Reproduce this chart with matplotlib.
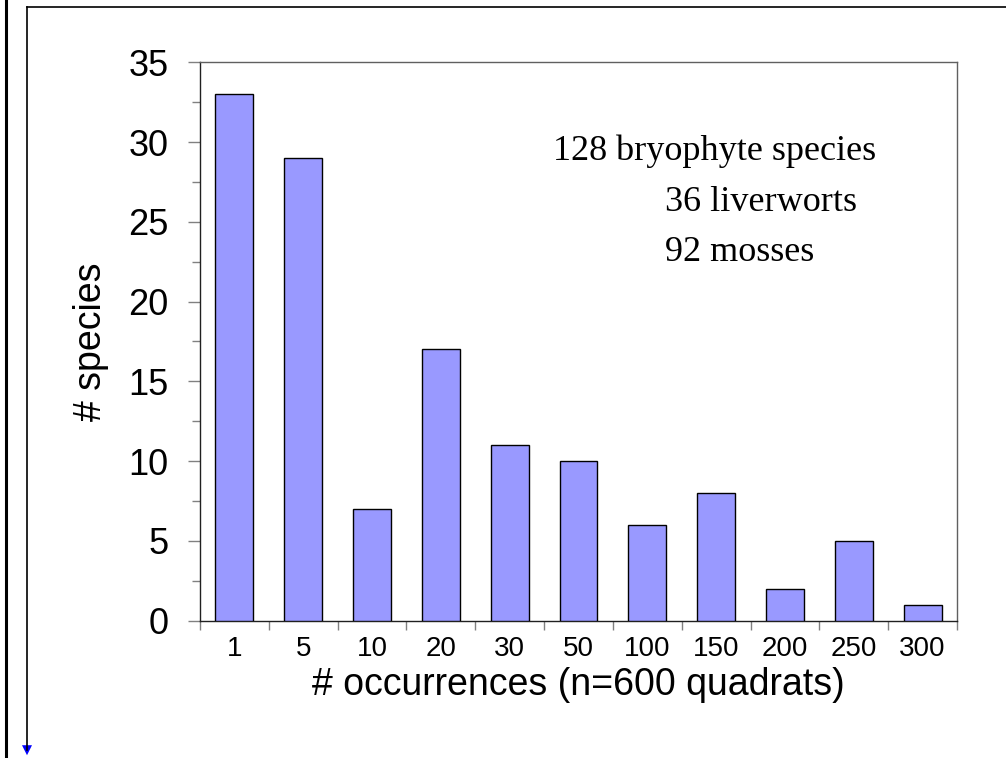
import numpy as np
import matplotlib
matplotlib.use("Agg")
import matplotlib.pyplot as plt
from matplotlib.lines import Line2D
from matplotlib.patches import FancyArrowPatch

plt.rcParams["font.family"] = ["Liberation Sans", "DejaVu Sans"]

# occurrence classes and number of species in each
classes = ["1", "5", "10", "20", "30", "50", "100", "150", "200", "250", "300"]
species = [33, 29, 7, 17, 11, 10, 6, 8, 2, 5, 1]
notes = ["128 bryophyte species", "36 liverworts", "92 mosses"]

W, H = 1006, 758
fig = plt.figure(figsize=(W / 100, H / 100), dpi=100)
ax = fig.add_axes([200 / W, 1 - 620.5 / H, 757 / W, 558 / H])

x = np.arange(len(classes))
ax.bar(x, species, width=0.55, color="#9999ff", edgecolor="black", linewidth=1.0, zorder=3)

ax.set_xlim(-0.5, len(classes) - 0.5)
ax.set_ylim(0, 35)

# y axis
ax.set_yticks(np.arange(0, 36, 5))
ax.set_yticks(np.arange(2.5, 35, 5), minor=True)
ax.tick_params(axis="y", which="major", length=8.6, width=1, color="#808080",
               labelsize=26, pad=14)
ax.tick_params(axis="y", which="minor", length=5.8, width=1, color="#808080")

# x axis: labels centred, ticks on class boundaries
ax.set_xticks(x)
ax.set_xticklabels(classes)
ax.set_xticks(np.arange(-0.5, len(classes), 1), minor=True)
ax.tick_params(axis="x", which="major", length=0, labelsize=20, pad=11)
ax.tick_params(axis="x", which="minor", length=6.5, width=1, color="#808080")

for side in ["left", "bottom"]:
    ax.spines[side].set_color("#202020")
for side in ["top", "right"]:
    ax.spines[side].set_color("#606060")
for s in ax.spines.values():
    s.set_linewidth(1.0)

ax.set_xlabel("# occurrences (n=600 quadrats)", fontsize=27, labelpad=4)
ax.set_ylabel("# species", fontsize=27, labelpad=14)

# annotation text
serif = ["Liberation Serif", "DejaVu Serif"]
fig.text(553 / W, 1 - 160 / H, notes[0], family=serif, fontsize=26, va="baseline")
fig.text(665 / W, 1 - 211 / H, notes[1], family=serif, fontsize=26, va="baseline")
fig.text(665 / W, 1 - 261 / H, notes[2], family=serif, fontsize=26, va="baseline")

# slide frame decorations
fig.add_artist(Line2D([6 / W, 6 / W], [0, 1], color="black", linewidth=2.2))
fig.add_artist(Line2D([27 / W, 1], [1 - 7 / H, 1 - 7 / H], color="black", linewidth=1.2))
fig.add_artist(Line2D([27 / W, 27 / W], [1 - 7 / H, 1 - 750 / H], color="black", linewidth=1.2))
fig.add_artist(FancyArrowPatch((27 / W, 1 - 742 / H), (27 / W, 1 - 758 / H),
                               transform=fig.transFigure, arrowstyle="-|>",
                               mutation_scale=18, color="#0000ff", linewidth=0))

fig.savefig("out.png", dpi=100)
